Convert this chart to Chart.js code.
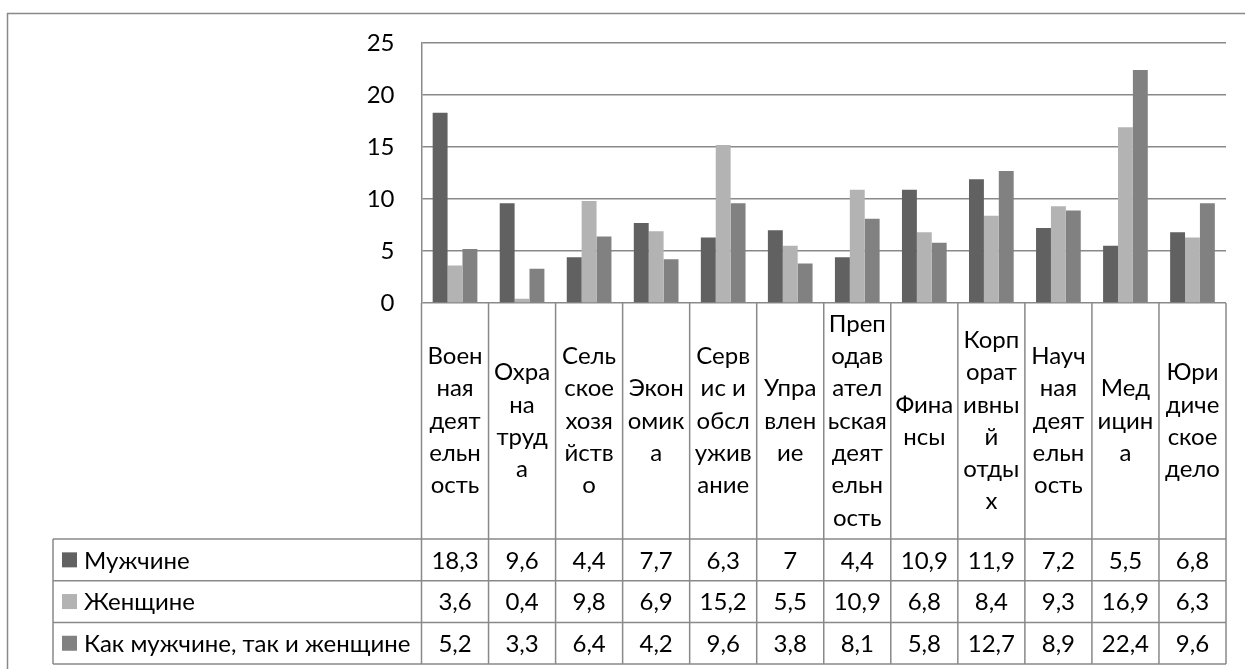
<!DOCTYPE html>
<html>
<head>
<meta charset="utf-8">
<script src="https://cdn.jsdelivr.net/npm/chart.js@4.4.0/dist/chart.umd.min.js"></script>
<style>
  html, body { margin: 0; padding: 0; background: #fff; }
  #wrap { position: relative; width: 1245px; height: 669px; }
</style>
</head>
<body>
<div id="wrap"><canvas id="chart" width="1245" height="669"></canvas></div>
<script>
// category names, already split into the lines shown in the table header cells
const categories = [
  ["Воен", "ная", "деят", "ельн", "ость"],
  ["Охра", "на", "труд", "а"],
  ["Сель", "ское", "хозя", "йств", "о"],
  ["Экон", "омик", "а"],
  ["Серв", "ис и", "обсл", "ужив", "ание"],
  ["Упра", "влен", "ие"],
  ["Преп", "одав", "ател", "ьская", "деят", "ельн", "ость"],
  ["Фина", "нсы"],
  ["Корп", "орат", "ивны", "й", "отды", "х"],
  ["Науч", "ная", "деят", "ельн", "ость"],
  ["Мед", "ицин", "а"],
  ["Юри", "диче", "ское", "дело"],
];

const seriesNames = ["Мужчине", "Женщине", "Как мужчине, так и женщине"];
const men = [18.3, 9.6, 4.4, 7.7, 6.3, 7, 4.4, 10.9, 11.9, 7.2, 5.5, 6.8];
const women = [3.6, 0.4, 9.8, 6.9, 15.2, 5.5, 10.9, 6.8, 8.4, 9.3, 16.9, 6.3];
const both = [5.2, 3.3, 6.4, 4.2, 9.6, 3.8, 8.1, 5.8, 12.7, 8.9, 22.4, 9.6];
const seriesColors = ["#616161", "#b3b3b3", "#818181"];

const yTicks = [0, 5, 10, 15, 20, 25];

const FONT = "Lato, 'Open Sans', sans-serif";
const LINE = "#898989";

const fmt = (v) => String(v).replace(".", ",");

// frame, category header cells and the data table under the plot
const dataTable = {
  id: "dataTable",
  afterDraw(chart) {
    const ctx = chart.ctx;
    const area = chart.chartArea;
    const x = chart.scales.x;
    const colW = (area.right - area.left) / categories.length;
    const headerBottom = 539;
    const rowH = 41.7;
    const tableLeft = 53;
    const tableBottom = headerBottom + rowH * seriesNames.length;

    ctx.save();
    ctx.strokeStyle = LINE;
    ctx.lineWidth = 1.5;

    // outer frame (top and left edges)
    ctx.beginPath();
    ctx.moveTo(7.5, 669);
    ctx.lineTo(7.5, 13.5);
    ctx.lineTo(1245, 13.5);
    ctx.stroke();

    // column separators
    ctx.beginPath();
    for (let i = 0; i <= categories.length; i++) {
      const px = area.left + i * colW;
      ctx.moveTo(px, area.bottom);
      ctx.lineTo(px, tableBottom);
    }
    ctx.moveTo(tableLeft, headerBottom);
    ctx.lineTo(tableLeft, tableBottom);
    for (let r = 0; r <= seriesNames.length; r++) {
      const py = headerBottom + r * rowH;
      ctx.moveTo(tableLeft, py);
      ctx.lineTo(area.right, py);
    }
    ctx.stroke();

    // category header text
    ctx.fillStyle = "#000";
    ctx.font = "24px " + FONT;
    ctx.textAlign = "center";
    ctx.textBaseline = "middle";
    const lineH = 32.3;
    const headMid = (area.bottom + headerBottom) / 2;
    categories.forEach((lines, i) => {
      const cx = x.getPixelForValue(i);
      const top = headMid - ((lines.length - 1) * lineH) / 2;
      lines.forEach((t, j) => ctx.fillText(t, cx, top + j * lineH));
    });

    // series rows
    const rows = [men, women, both];
    rows.forEach((vals, r) => {
      const cy = headerBottom + r * rowH + rowH / 2;
      ctx.fillStyle = seriesColors[r];
      ctx.fillRect(62, cy - 7.5, 15, 15);
      ctx.fillStyle = "#000";
      ctx.textAlign = "left";
      ctx.fillText(seriesNames[r], 84, cy + 1);
      ctx.textAlign = "center";
      vals.forEach((v, i) => ctx.fillText(fmt(v), x.getPixelForValue(i), cy + 1));
    });
    ctx.restore();
  },
};

new Chart(document.getElementById("chart"), {
  type: "bar",
  data: {
    labels: categories.map((c) => c.join("")),
    datasets: [men, women, both].map((d, i) => ({
      label: seriesNames[i],
      data: d,
      backgroundColor: seriesColors[i],
      borderWidth: 0,
      categoryPercentage: 3 / 4.5,
      barPercentage: 1,
    })),
  },
  options: {
    responsive: false,
    animation: false,
    events: [],
    layout: { padding: { top: 43, left: 0, right: 19, bottom: 366 } },
    plugins: { legend: { display: false }, tooltip: { enabled: false } },
    scales: {
      x: { display: false },
      y: {
        min: 0,
        max: 25,
        afterFit: (s) => { s.width = 421.5; },
        afterBuildTicks: (s) => { s.ticks = yTicks.map((v) => ({ value: v })); },
        ticks: { color: "#000", font: { family: FONT, size: 24 }, padding: 27 },
        grid: { color: LINE, lineWidth: 1.5, drawTicks: false },
        border: { color: LINE, width: 1.5 },
      },
    },
  },
  plugins: [dataTable],
});
</script>
</body>
</html>
